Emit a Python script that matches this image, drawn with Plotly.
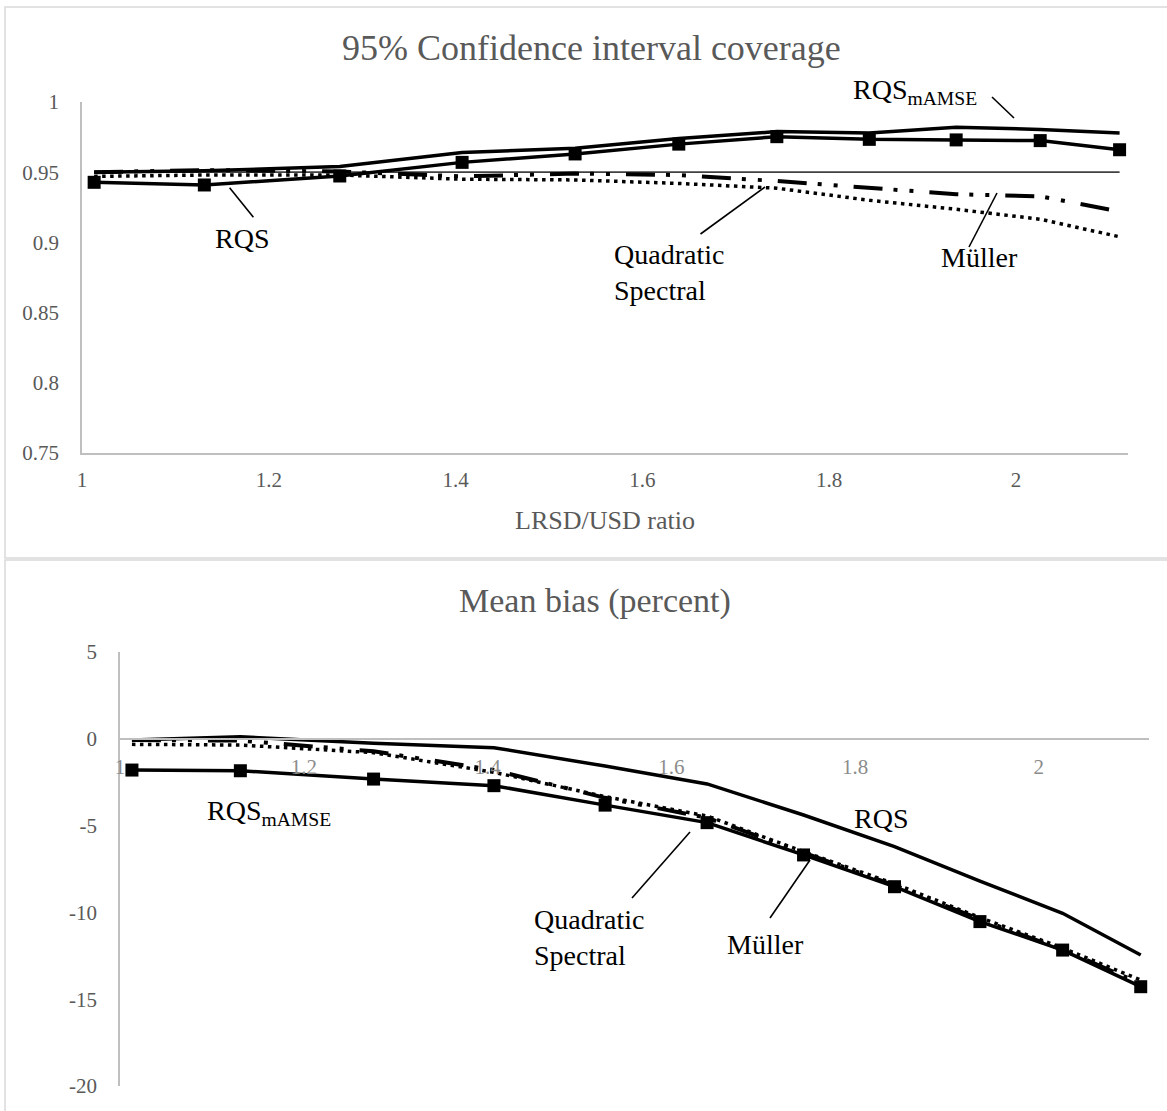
import plotly.graph_objects as go

# LRSD/USD ratio at which each estimator was evaluated
ratio = [1.013, 1.131, 1.276, 1.407, 1.528, 1.639, 1.744, 1.843, 1.936, 2.026, 2.111]

# 95% confidence interval coverage
cov_rqs = [0.9428, 0.9409, 0.9473, 0.9570, 0.9630, 0.9700, 0.9753, 0.9734, 0.9730, 0.9725, 0.9660]
cov_rqs_mamse = [0.9500, 0.9510, 0.9540, 0.9640, 0.9670, 0.9740, 0.9789, 0.9780, 0.9820, 0.9805, 0.9780]
cov_qs = [0.9470, 0.9480, 0.9480, 0.9450, 0.9445, 0.9420, 0.9386, 0.9300, 0.9236, 0.9165, 0.9040]
cov_muller = [0.9500, 0.9515, 0.9505, 0.9470, 0.9490, 0.9480, 0.9437, 0.9390, 0.9343, 0.9328, 0.9220]
NOMINAL = 0.95

# Mean bias (percent)
bias_rqs_mamse = [-1.80, -1.84, -2.32, -2.70, -3.82, -4.83, -6.69, -8.52, -10.53, -12.17, -14.28]
bias_rqs = [-0.07, 0.12, -0.25, -0.51, -1.57, -2.60, -4.39, -6.21, -8.20, -10.05, -12.45]
bias_qs = [-0.32, -0.36, -0.80, -1.93, -3.33, -4.45, -6.50, -8.35, -10.30, -12.05, -13.90]
bias_muller = [-0.07, -0.10, -0.72, -1.80, -3.40, -4.55, -6.55, -8.45, -10.40, -12.15, -14.10]

x_ticks = [1, 1.2, 1.4, 1.6, 1.8, 2]
x_ticktext = ["1", "1.2", "1.4", "1.6", "1.8", "2"]
cov_ticks = [0.75, 0.8, 0.85, 0.9, 0.95, 1]
cov_ticktext = ["0.75", "0.8", "0.85", "0.9", "0.95", "1"]
bias_ticks = [-20, -15, -10, -5, 0, 5]
bias_ticktext = ["-20", "-15", "-10", "-5", "0", "5"]

W, H = 1167, 1111
FONT = "Liberation Serif"
GREY = "#595959"
AXIS = "#bfbfbf"


def px(x, y):
    """Pixel position -> paper coordinates."""
    return x / W, 1 - y / H


fig = go.Figure()

thick = dict(color="black", width=3.5)
dotted = dict(color="black", width=3.5, dash="3.5px,4.5px")
dashdotdot = dict(color="black", width=4, dash="29px,11px,4px,12px,4px,16px")
square = dict(symbol="square", size=13, color="black")

# --- coverage panel ---
fig.add_trace(go.Scatter(x=[ratio[0], ratio[-1]], y=[NOMINAL, NOMINAL], mode="lines",
                         line=dict(color="#404040", width=1.8), xaxis="x", yaxis="y",
                         name="Nominal"))
fig.add_trace(go.Scatter(x=ratio, y=cov_qs, mode="lines", line=dotted,
                         xaxis="x", yaxis="y", name="Quadratic Spectral"))
fig.add_trace(go.Scatter(x=ratio, y=cov_muller, mode="lines", line=dashdotdot,
                         xaxis="x", yaxis="y", name="Müller"))
fig.add_trace(go.Scatter(x=ratio, y=cov_rqs_mamse, mode="lines", line=thick,
                         xaxis="x", yaxis="y", name="RQS mAMSE"))
fig.add_trace(go.Scatter(x=ratio, y=cov_rqs, mode="lines+markers", line=thick, marker=square,
                         xaxis="x", yaxis="y", name="RQS"))

# --- bias panel ---
fig.add_trace(go.Scatter(x=ratio, y=bias_qs, mode="lines", line=dotted,
                         xaxis="x2", yaxis="y2", name="Quadratic Spectral"))
fig.add_trace(go.Scatter(x=ratio, y=bias_muller, mode="lines", line=dashdotdot,
                         xaxis="x2", yaxis="y2", name="Müller"))
fig.add_trace(go.Scatter(x=ratio, y=bias_rqs, mode="lines", line=thick,
                         xaxis="x2", yaxis="y2", name="RQS"))
fig.add_trace(go.Scatter(x=ratio, y=bias_rqs_mamse, mode="lines+markers", line=thick, marker=square,
                         xaxis="x2", yaxis="y2", name="RQS mAMSE"))

x0, y_top = px(82, 102)
x1, y_bot = px(1128, 453)
bx0, by_top = px(120, 652)
bx1, by_bot = px(1149, 1086)
_, zero_y = px(0, 738.8)

tickfont = dict(family=FONT, size=21, color=GREY)
common = dict(showline=True, linecolor=AXIS, linewidth=1.5, showgrid=False,
              zeroline=False, ticks="", automargin=False)

fig.update_layout(
    template="none",
    width=W, height=H,
    margin=dict(l=0, r=0, t=0, b=0, pad=0, autoexpand=False),
    paper_bgcolor="white", plot_bgcolor="white",
    showlegend=False,
    font=dict(family=FONT, color=GREY),
    xaxis=dict(domain=[x0, x1], range=[1, 2.12], anchor="y",
               tickvals=x_ticks, ticktext=x_ticktext, tickfont=tickfont,
               ticklabelstandoff=7,
               title=dict(text="LRSD/USD ratio", font=dict(family=FONT, size=26, color=GREY),
                          standoff=20),
               **common),
    yaxis=dict(domain=[y_bot, y_top], range=[0.75, 1], anchor="x",
               tickvals=cov_ticks, ticktext=cov_ticktext, tickfont=tickfont,
               ticklabelstandoff=17, **common),
    xaxis2=dict(domain=[bx0, bx1], range=[1, 2.12], anchor="free", position=zero_y,
                tickvals=x_ticks, ticktext=x_ticktext,
                tickfont=dict(family=FONT, size=21, color="#8c8c8c"),
                ticklabelstandoff=9, **common),
    yaxis2=dict(domain=[by_bot, by_top], range=[-20, 5], anchor="x2",
                tickvals=bias_ticks, ticktext=bias_ticktext, tickfont=tickfont,
                ticklabelstandoff=17, **common),
)

# chart frames
frame = dict(type="rect", xref="paper", yref="paper", line=dict(color="#d9d9d9", width=1.5),
             fillcolor="rgba(0,0,0,0)", layer="below")
fx0, fy0 = px(5, 558)
_, fy1 = px(0, 7)
fig.add_shape(x0=fx0, x1=1.05, y0=fy0, y1=fy1, **frame)
_, gy1 = px(0, 560)
fig.add_shape(x0=fx0, x1=1.05, y0=-0.05, y1=gy1, **frame)

# titles
tx, ty = px(591, 48)
fig.add_annotation(x=tx, y=ty, xref="paper", yref="paper", text="95% Confidence interval coverage",
                   showarrow=False, font=dict(family=FONT, size=36, color=GREY),
                   xanchor="center", yanchor="middle")
tx, ty = px(595, 601)
fig.add_annotation(x=tx, y=ty, xref="paper", yref="paper", text="Mean bias (percent)",
                   showarrow=False, font=dict(family=FONT, size=34, color=GREY),
                   xanchor="center", yanchor="middle")

label_font = dict(family=FONT, size=28, color="black")


def label(text, x, y, xanchor="left"):
    ax, ay = px(x, y)
    fig.add_annotation(x=ax, y=ay, xref="paper", yref="paper", text=text, showarrow=False,
                       font=label_font, xanchor=xanchor, yanchor="middle", align="left")


def leader(xa, ya, xb, yb):
    pa, qa = px(xa, ya)
    pb, qb = px(xb, yb)
    fig.add_shape(type="line", xref="paper", yref="paper", x0=pa, y0=qa, x1=pb, y1=qb,
                  line=dict(color="black", width=1.6))


mamse = "RQS<sub>mAMSE</sub>"

# coverage panel labels
label("RQS", 213, 238)
leader(229.6, 187.7, 253.4, 217.3)
label(mamse, 851, 92)
leader(992, 97, 1014, 118)
label("Quadratic<br>Spectral", 612, 272)
leader(700.5, 234, 765, 187)
label("Müller", 939, 257)
leader(969, 247, 997, 193)

# bias panel labels
label(mamse, 205, 812)
label("RQS", 852, 818)
label("Quadratic<br>Spectral", 532, 937)
leader(632, 898, 690, 832)
label("Müller", 725, 945)
leader(770, 918, 810, 860)

fig.write_html("out.html")
